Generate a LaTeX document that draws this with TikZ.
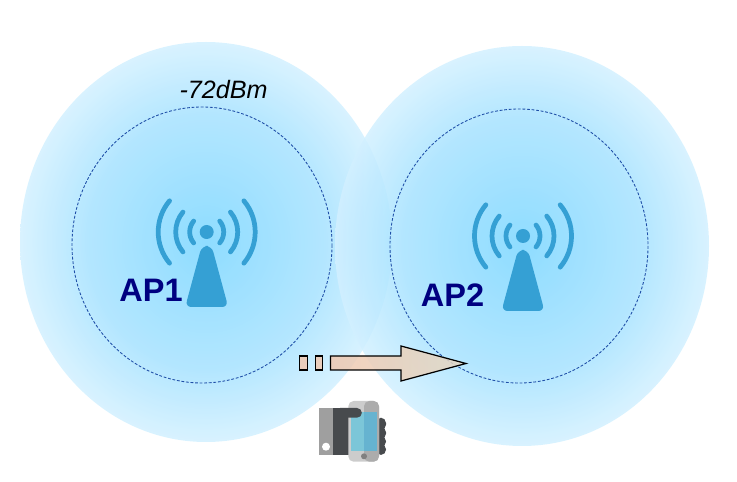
\documentclass[tikz,border=0pt]{standalone}
\usepackage{fontspec}
\setmainfont{Liberation Sans}
\usetikzlibrary{positioning}
\definecolor{mastblue}{HTML}{35A0D4}
\definecolor{apnavy}{HTML}{000080}
\definecolor{rangeblue}{HTML}{1F4FA8}
\definecolor{handdark}{HTML}{474A4D}
\definecolor{glowcore}{HTML}{7BD6FF}
\definecolor{glowmid}{HTML}{A6E2FF}
\definecolor{glowedge}{HTML}{D2F0FF}
\definecolor{pipeleft}{HTML}{F0C8B0}
\definecolor{piperight}{HTML}{E3D8C5}
\definecolor{screenleft}{HTML}{7CC6D8}
\definecolor{screenright}{HTML}{66B3D0}
\pgfdeclareradialshading{apglow}{\pgfpoint{0bp}{0bp}}{color(0bp)=(glowcore); color(16bp)=(glowmid); color(25bp)=(glowedge); color(50bp)=(glowedge)}
\tikzset{
  coverage/.style={shade,shading=apglow,opacity=0.85},
  rangeline/.style={draw=rangeblue,dash pattern=on 1.6pt off 1pt,line width=0.5pt},
  aplabel/.style={text=apnavy,font=\bfseries\fontsize{18.5}{20}\selectfont},
  wave/.style={draw=mastblue,line width=2.7pt,line cap=round},
  antenna/.pic={
    \fill[mastblue] (0,0) circle (7);
    \draw[wave] (140:17) arc (140:220:17);
    \draw[wave] (140:31) arc (140:220:31);
    \draw[wave] (140:48.5) arc (140:220:48.5);
    \draw[wave] (40:17) arc (40:-40:17);
    \draw[wave] (40:31) arc (40:-40:31);
    \draw[wave] (40:48.5) arc (40:-40:48.5);
    \fill[mastblue,rounded corners=3.5pt] (-5,14) -- (5,14) -- (21.5,75) -- (-21.5,75) -- cycle;
  },
  pipe/.style={draw=black,line width=0.7pt},
}
\begin{document}
\begin{tikzpicture}[x=0.02cm,y=-0.02cm]
  \useasboundingbox (0,0) rectangle (737,482);
% Coverage areas
  \path[coverage] (206,242) ellipse [x radius=186,y radius=200];
  \path[coverage] (522,246) ellipse [x radius=187,y radius=200];
  \draw[rangeline] (202,245) ellipse [x radius=130,y radius=138];
  \draw[rangeline] (519,246) ellipse [x radius=129,y radius=137];
  \node (level) at (223.5,90) {\itshape\fontsize{14.3}{16}\selectfont -72dBm};
% Access points
  \pic at (206.7,232) {antenna};
  \pic at (523,236) {antenna};
  \node[aplabel] (apone) at (151,290) {AP1};
  \node[aplabel] (aptwo) at (452.5,295) {AP2};
% Moving direction
  \draw[pipe,fill=pipeleft,fill opacity=0.85] (299.5,356) rectangle (307.5,370);
  \draw[pipe,fill=pipeleft,fill opacity=0.85] (315.5,356) rectangle (322.5,370);
  \draw[pipe,left color=pipeleft,right color=piperight,fill opacity=0.85]
    (330.5,356) -- (401,356) -- (401,346) -- (466,363.5) -- (401,381) -- (401,370) -- (330.5,370) -- cycle;
% Hand with phone
  \fill[gray!75] (319.3,408) rectangle (332.7,455);
  \fill[white] (326,446.7) circle (4);
  \fill[handdark] (332.7,408) rectangle (350,455);
  \fill[handdark,rounded corners=3pt] (376,417.7) rectangle (386,430);
  \fill[handdark,rounded corners=3pt] (376,427) rectangle (386,439);
  \fill[handdark,rounded corners=3pt] (376,436) rectangle (386,447);
  \fill[handdark,rounded corners=3pt] (376,444) rectangle (386,455);
  \fill[gray!40,rounded corners=3pt] (348.3,401) rectangle (379,461.7);
  \fill[gray!65,rounded corners=3pt] (364,401) -- (379,401) -- (379,461.7) -- (364,461.7) -- cycle;
  \fill[screenleft] (350.7,412.3) rectangle (364,451);
  \fill[screenright] (364,412.3) rectangle (377.3,451);
  \fill[gray] (364,456.3) circle (3);
  \fill[handdark] (340,408) -- (357,408) arc (-90:90:4.85) -- (340,417.7) -- cycle;
\end{tikzpicture}
\end{document}
